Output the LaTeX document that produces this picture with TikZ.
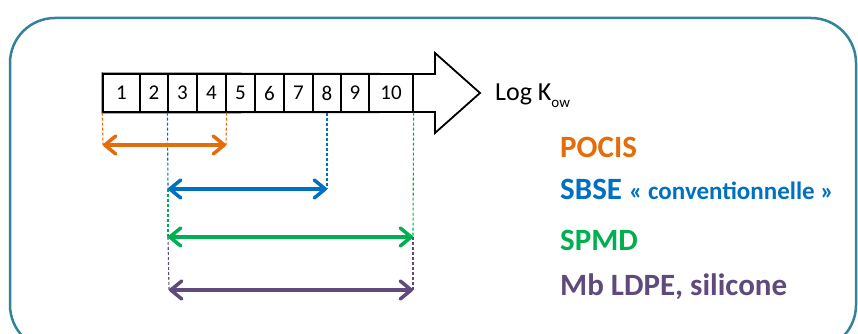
\documentclass[tikz,border=0pt]{standalone}
\usepackage{fontspec}
\setmainfont{Carlito}
\usetikzlibrary{arrows.meta}

\definecolor{frameteal}{HTML}{31849B}
\definecolor{pocisorange}{HTML}{E46C0A}
\definecolor{sbseblue}{HTML}{0070C0}
\definecolor{spmdgreen}{HTML}{00B050}
\definecolor{ldpepurple}{HTML}{604A7B}

\begin{document}
\begin{tikzpicture}[x=1pt,y=-1pt,
  cell/.style={draw, line width=1.2pt, minimum height=38pt, inner sep=0pt,
               font=\fontsize{21}{21}\selectfont},
  outline/.style={draw, line width=1.8pt, line join=miter},
  guide/.style={line width=1.1pt, dash pattern=on 3pt off 2pt},
  spanarrow/.style={line width=3.5pt, line cap=round,
                {Straight Barb[length=11pt,width=18pt,round]}-{Straight Barb[length=11pt,width=18pt,round]}},
  tag/.style={anchor=base west, inner sep=0pt,
              font=\fontsize{31}{31}\selectfont\bfseries}
]
\useasboundingbox (0,0) rectangle (858,334);
\fill[white] (0,0) rectangle (858,334);

% rounded frame (its lower edge runs below the page)
\draw[frameteal, line width=2.5pt, rounded corners=45pt] (10,18) rectangle (856,350);

% the log Kow scale: ten cells inside a block arrow
\node[cell, minimum width=37pt] (c1)  at (121.5,93) {1};
\node[cell, minimum width=28pt] (c2)  at (154,93)   {2};
\node[cell, minimum width=29pt] (c3)  at (182.5,93) {3};
\node[cell, minimum width=29pt] (c4)  at (211.5,93) {4};
\node[cell, minimum width=29pt] (c5)  at (240.5,93) {5};
\node[cell, minimum width=29pt] (c6)  at (269.5,93) {6};
\node[cell, minimum width=29pt] (c7)  at (298.5,93) {7};
\node[cell, minimum width=28pt] (c8)  at (327,93)   {8};
\node[cell, minimum width=28pt] (c9)  at (355,93)   {9};
\node[cell, minimum width=44pt] (c10) at (391,93)   {10};

\draw[outline] (c1.north west) -- (435,74) -- (435,53) -- (480,93)
  -- (435,133) -- (435,112) -- (c1.south west) -- cycle;

\node[anchor=base west, inner sep=0pt, font=\fontsize{26}{26}\selectfont]
  (logk) at (495,100) {Log K\raisebox{-0.3em}{\fontsize{15}{15}\selectfont ow}};

% end points of the ranges
\coordinate (po-l) at (103,145);  \coordinate (po-r) at (226,145);
\coordinate (sb-l) at (168,189);  \coordinate (sb-r) at (327,189);
\coordinate (sp-l) at (168,237);  \coordinate (sp-r) at (413,237);
\coordinate (mb-l) at (169,290);  \coordinate (mb-r) at (413,290);

% dashed guides down from the scale
\draw[guide, pocisorange] (c1.south west) -- (po-l);
\draw[guide, pocisorange] (c4.south east) -- (po-r);
\draw[guide, sbseblue] (c3.south west) -- (sb-l);
\draw[guide, sbseblue] (c8.south) -- (sb-r);
\draw[guide, spmdgreen] (sb-l) -- (sp-l);
\draw[guide, spmdgreen] (c10.south east) -- (sp-r);
\draw[guide, ldpepurple] (sp-l) -- (mb-l);
\draw[guide, ldpepurple] (sp-r) -- (mb-r);

% ranges
\draw[spanarrow, pocisorange] (po-l) -- (po-r);
\draw[spanarrow, sbseblue] (sb-l) -- (sb-r);
\draw[spanarrow, spmdgreen] (sp-l) -- (sp-r);
\draw[spanarrow, ldpepurple] (mb-l) -- (mb-r);

% labels
\node[tag, pocisorange] (pocis) at (560,157) {POCIS};
\node[tag, sbseblue] (sbse) at (560,199) {SBSE \fontsize{25}{25}\selectfont « conventionnelle »};
\node[tag, spmdgreen] (spmd) at (560,250) {SPMD};
\node[tag, ldpepurple] (mb) at (560,295) {Mb LDPE, silicone};
\end{tikzpicture}
\end{document}
